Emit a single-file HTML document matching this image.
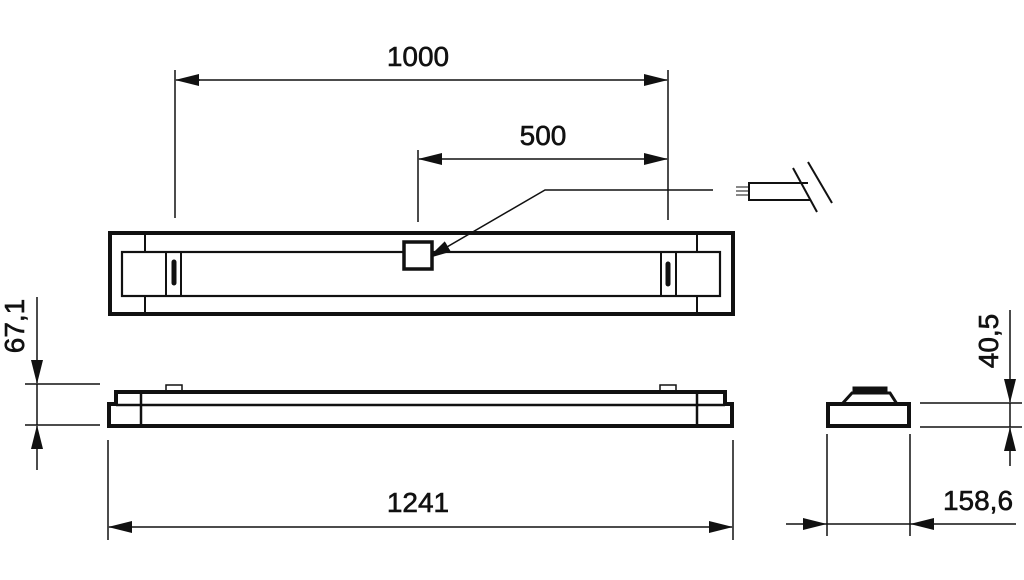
<!DOCTYPE html>
<html><head><style>body{margin:0;background:#fff}svg{display:block}text{font-family:"Liberation Sans",sans-serif;fill:#111}</style></head>
<body>
<svg width="1024" height="580" viewBox="0 0 1024 580" xmlns="http://www.w3.org/2000/svg">
<defs>
<marker id="a" markerWidth="24" markerHeight="12" refX="23" refY="6" orient="auto" markerUnits="userSpaceOnUse"><path d="M0,0 L24,6 L0,12 Z" fill="#111"/></marker>
</defs>
<g stroke="#111" fill="none">
<line x1="175" y1="70" x2="175" y2="218" stroke-width="1.5"/>
<line x1="668" y1="70" x2="668" y2="220" stroke-width="1.5"/>
<line x1="418" y1="150" x2="418" y2="222" stroke-width="1.5"/>
<line x1="200" y1="80" x2="176" y2="80" stroke-width="1.5" marker-end="url(#a)"/>
<line x1="190" y1="80" x2="667" y2="80" stroke-width="1.5" marker-end="url(#a)"/>
<line x1="440" y1="159" x2="419" y2="159" stroke-width="1.5" marker-end="url(#a)"/>
<line x1="430" y1="159" x2="667" y2="159" stroke-width="1.5" marker-end="url(#a)"/>
<polyline points="713,190 545,190 428,258" stroke-width="1.5" marker-end="url(#a)"/>
<line x1="736" y1="187" x2="748" y2="187" stroke-width="1"/>
<line x1="736" y1="191" x2="748" y2="191" stroke-width="1"/>
<line x1="736" y1="195" x2="748" y2="195" stroke-width="1"/>
<polyline points="808,183 749,183 749,200 810,200" stroke-width="2"/>
<line x1="793" y1="168" x2="817" y2="212" stroke-width="2"/>
<line x1="808" y1="162" x2="832" y2="203" stroke-width="2"/>
<rect x="110" y="233" width="623" height="81" stroke-width="4"/>
<line x1="145" y1="234" x2="145" y2="252" stroke-width="2"/>
<line x1="145" y1="296" x2="145" y2="312" stroke-width="2"/>
<line x1="697" y1="234" x2="697" y2="252" stroke-width="2"/>
<line x1="697" y1="296" x2="697" y2="312" stroke-width="2"/>
<rect x="122" y="252" width="598" height="44" stroke-width="2.2"/>
<rect x="166" y="252" width="15" height="44" stroke-width="2"/>
<rect x="661" y="252" width="15" height="44" stroke-width="2"/>
<line x1="174" y1="262" x2="174" y2="283" stroke-width="5" stroke-linecap="round"/>
<line x1="668" y1="264" x2="668" y2="284" stroke-width="5" stroke-linecap="round"/>
<rect x="404" y="242" width="28" height="27" stroke-width="3.5" fill="#fff"/>
<path d="M116,404 V392 H725 V404 H732 V426 H109 V404 Z" stroke-width="4"/>
<line x1="116" y1="405" x2="725" y2="405" stroke-width="2.5"/>
<line x1="141" y1="393" x2="141" y2="425" stroke-width="2.5"/>
<line x1="697" y1="393" x2="697" y2="425" stroke-width="2.5"/>
<rect x="166" y="385" width="16" height="6" stroke-width="1.5"/>
<rect x="660" y="385" width="16" height="6" stroke-width="1.5"/>
<line x1="25" y1="384" x2="100" y2="384" stroke-width="1.5"/>
<line x1="25" y1="425" x2="100" y2="425" stroke-width="1.5"/>
<line x1="37" y1="297" x2="37" y2="383" stroke-width="1.5" marker-end="url(#a)"/>
<line x1="37" y1="470" x2="37" y2="426" stroke-width="1.5" marker-end="url(#a)"/>
<line x1="37" y1="384" x2="37" y2="425" stroke-width="1.5"/>
<line x1="108" y1="440" x2="108" y2="540" stroke-width="1.5"/>
<line x1="733" y1="440" x2="733" y2="540" stroke-width="1.5"/>
<line x1="130" y1="527" x2="109" y2="527" stroke-width="1.5" marker-end="url(#a)"/>
<line x1="120" y1="527" x2="732" y2="527" stroke-width="1.5" marker-end="url(#a)"/>
<rect x="828" y="404" width="81" height="22" stroke-width="4"/>
<path d="M842,404 L852,393 H890 L897,404" stroke-width="3"/>
<rect x="853" y="387" width="34" height="5" fill="#111" stroke-width="1"/>
<line x1="827" y1="434" x2="827" y2="536" stroke-width="1.5"/>
<line x1="910" y1="434" x2="910" y2="536" stroke-width="1.5"/>
<line x1="786" y1="524" x2="826" y2="524" stroke-width="1.5" marker-end="url(#a)"/>
<line x1="1016" y1="524" x2="911" y2="524" stroke-width="1.5" marker-end="url(#a)"/>
<line x1="826" y1="524" x2="911" y2="524" stroke-width="1.5"/>
<line x1="920" y1="403" x2="1022" y2="403" stroke-width="1.5"/>
<line x1="920" y1="427" x2="1022" y2="427" stroke-width="1.5"/>
<line x1="1010" y1="310" x2="1010" y2="402" stroke-width="1.5" marker-end="url(#a)"/>
<line x1="1010" y1="466" x2="1010" y2="428" stroke-width="1.5" marker-end="url(#a)"/>
<line x1="1010" y1="403" x2="1010" y2="427" stroke-width="1.5"/>
</g>
<g stroke="#111" stroke-width="0.6">
<text x="418" y="66" font-size="28" text-anchor="middle">1000</text>
<text x="543" y="145" font-size="28" text-anchor="middle">500</text>
<text x="418" y="512" font-size="28" text-anchor="middle">1241</text>
<text x="978" y="510" font-size="28" text-anchor="middle">158,6</text>
<text transform="translate(24,326) rotate(-90)" font-size="28" text-anchor="middle">67,1</text>
<text transform="translate(998,341) rotate(-90)" font-size="28" text-anchor="middle">40,5</text>
</g>
</svg>
</body></html>
